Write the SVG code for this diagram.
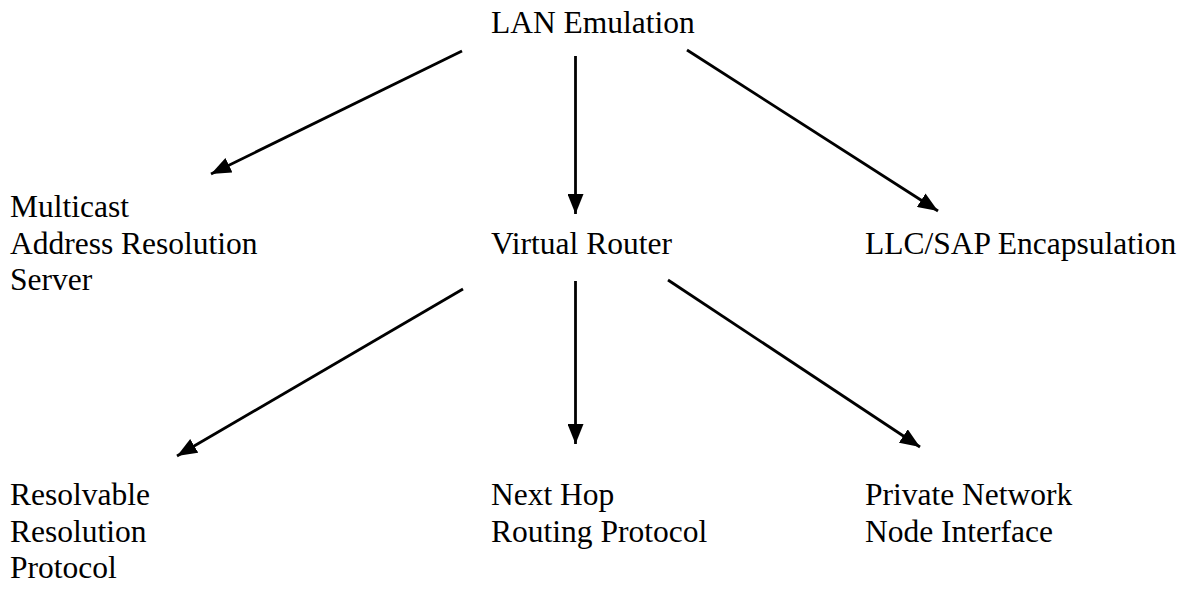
<svg xmlns="http://www.w3.org/2000/svg" width="1200" height="590" viewBox="0 0 1200 590">
<style>
text{font-family:"Liberation Serif","Times New Roman",serif;font-size:31.5px;fill:#000}
.c line{stroke:#000;stroke-width:2.8;marker-end:url(#ah)}
</style>
<defs>
<marker id="ah" markerUnits="userSpaceOnUse" viewBox="0 0 20 16" refX="20" refY="8" markerWidth="20" markerHeight="16" orient="auto">
<path d="M0,0 L20,8 L0,16 z" fill="#000"/>
</marker>
</defs>
<rect width="1200" height="590" fill="#fff"/>
<g class="c" id="connectors">
<line x1="462" y1="51" x2="211" y2="174"/>
<line x1="575.5" y1="56" x2="575.5" y2="214"/>
<line x1="687" y1="50" x2="938" y2="211"/>
<line x1="463" y1="289" x2="177" y2="456"/>
<line x1="575.5" y1="281" x2="575.5" y2="444"/>
<line x1="668" y1="280" x2="920" y2="447"/>
</g>
<g id="lan"><text x="491" y="33">LAN Emulation</text></g>
<g id="mars"><text x="10" y="217">Multicast</text><text x="10" y="253.5">Address Resolution</text><text x="10" y="290">Server</text></g>
<g id="vr"><text x="491" y="253.5">Virtual Router</text></g>
<g id="llc"><text x="865" y="253.5">LLC/SAP Encapsulation</text></g>
<g id="rrp"><text x="10" y="505">Resolvable</text><text x="10" y="541.5">Resolution</text><text x="10" y="578">Protocol</text></g>
<g id="nhrp"><text x="491" y="505">Next Hop</text><text x="491" y="541.5">Routing Protocol</text></g>
<g id="pnni"><text x="865" y="505">Private Network</text><text x="865" y="541.5">Node Interface</text></g>
</svg>
